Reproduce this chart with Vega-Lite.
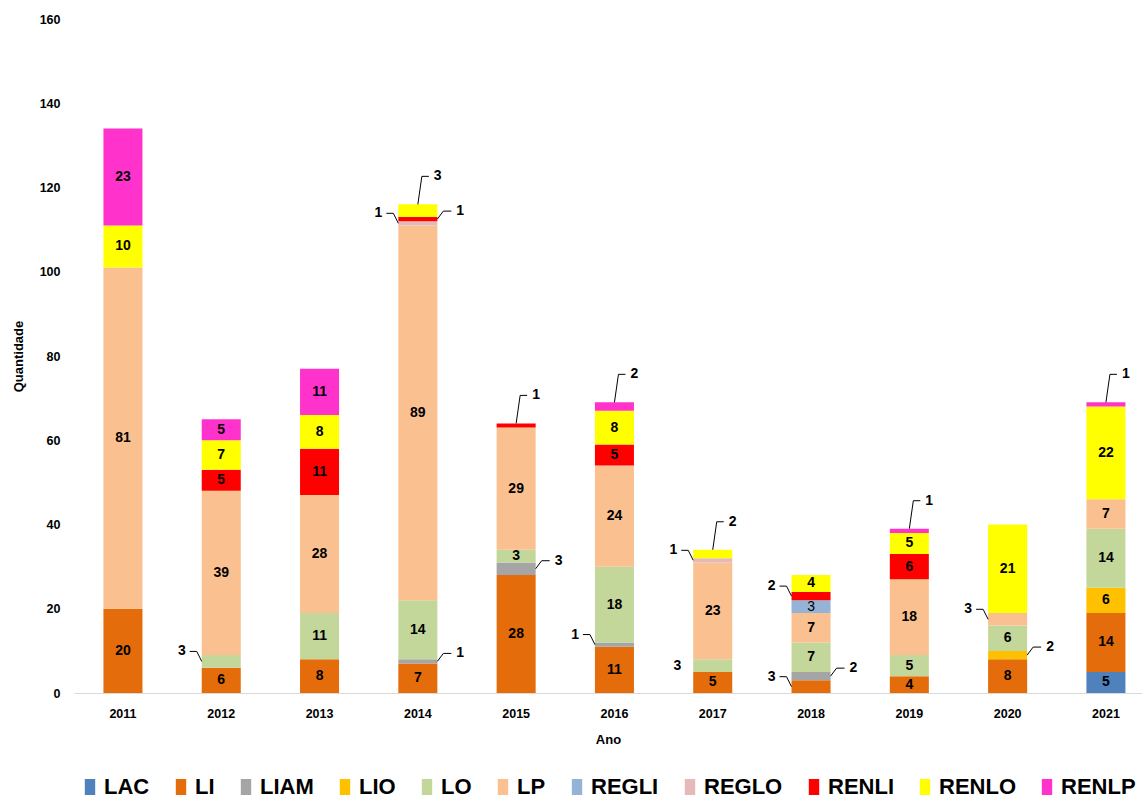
{
  "$schema": "https://vega.github.io/schema/vega-lite/v6.json",
  "width": 1068,
  "height": 674,
  "autosize": {"type": "none"},
  "padding": {"left": 74, "top": 19, "right": 0, "bottom": 108},
  "background": "white",
  "config": {
    "view": {"stroke": null},
    "font": "Liberation Sans",
    "text": {"font": "Liberation Sans", "fontWeight": "bold", "fontSize": 14, "color": "#000000", "baseline": "middle"},
    "rule": {"color": "#000000", "strokeWidth": 1}
  },
  "data": {
    "values": [
      {"year": "2011", "type": "LI", "value": 20},
      {"year": "2011", "type": "LP", "value": 81},
      {"year": "2011", "type": "RENLO", "value": 10},
      {"year": "2011", "type": "RENLP", "value": 23},
      {"year": "2012", "type": "LI", "value": 6},
      {"year": "2012", "type": "LO", "value": 3},
      {"year": "2012", "type": "LP", "value": 39},
      {"year": "2012", "type": "RENLI", "value": 5},
      {"year": "2012", "type": "RENLO", "value": 7},
      {"year": "2012", "type": "RENLP", "value": 5},
      {"year": "2013", "type": "LI", "value": 8},
      {"year": "2013", "type": "LO", "value": 11},
      {"year": "2013", "type": "LP", "value": 28},
      {"year": "2013", "type": "RENLI", "value": 11},
      {"year": "2013", "type": "RENLO", "value": 8},
      {"year": "2013", "type": "RENLP", "value": 11},
      {"year": "2014", "type": "LI", "value": 7},
      {"year": "2014", "type": "LIAM", "value": 1},
      {"year": "2014", "type": "LO", "value": 14},
      {"year": "2014", "type": "LP", "value": 89},
      {"year": "2014", "type": "REGLO", "value": 1},
      {"year": "2014", "type": "RENLI", "value": 1},
      {"year": "2014", "type": "RENLO", "value": 3},
      {"year": "2015", "type": "LI", "value": 28},
      {"year": "2015", "type": "LIAM", "value": 3},
      {"year": "2015", "type": "LO", "value": 3},
      {"year": "2015", "type": "LP", "value": 29},
      {"year": "2015", "type": "RENLI", "value": 1},
      {"year": "2016", "type": "LI", "value": 11},
      {"year": "2016", "type": "LIAM", "value": 1},
      {"year": "2016", "type": "LO", "value": 18},
      {"year": "2016", "type": "LP", "value": 24},
      {"year": "2016", "type": "RENLI", "value": 5},
      {"year": "2016", "type": "RENLO", "value": 8},
      {"year": "2016", "type": "RENLP", "value": 2},
      {"year": "2017", "type": "LI", "value": 5},
      {"year": "2017", "type": "LO", "value": 3},
      {"year": "2017", "type": "LP", "value": 23},
      {"year": "2017", "type": "REGLO", "value": 1},
      {"year": "2017", "type": "RENLO", "value": 2},
      {"year": "2018", "type": "LI", "value": 3},
      {"year": "2018", "type": "LIAM", "value": 2},
      {"year": "2018", "type": "LO", "value": 7},
      {"year": "2018", "type": "LP", "value": 7},
      {"year": "2018", "type": "REGLI", "value": 3},
      {"year": "2018", "type": "RENLI", "value": 2},
      {"year": "2018", "type": "RENLO", "value": 4},
      {"year": "2019", "type": "LI", "value": 4},
      {"year": "2019", "type": "LO", "value": 5},
      {"year": "2019", "type": "LP", "value": 18},
      {"year": "2019", "type": "RENLI", "value": 6},
      {"year": "2019", "type": "RENLO", "value": 5},
      {"year": "2019", "type": "RENLP", "value": 1},
      {"year": "2020", "type": "LI", "value": 8},
      {"year": "2020", "type": "LIO", "value": 2},
      {"year": "2020", "type": "LO", "value": 6},
      {"year": "2020", "type": "LP", "value": 3},
      {"year": "2020", "type": "RENLO", "value": 21},
      {"year": "2021", "type": "LAC", "value": 5},
      {"year": "2021", "type": "LI", "value": 14},
      {"year": "2021", "type": "LIO", "value": 6},
      {"year": "2021", "type": "LO", "value": 14},
      {"year": "2021", "type": "LP", "value": 7},
      {"year": "2021", "type": "RENLO", "value": 22},
      {"year": "2021", "type": "RENLP", "value": 1}
    ]
  },
  "transform": [
    {"stack": "value", "groupby": ["year"], "sort": [{"field": "type", "order": "ascending"}], "as": ["v0", "v1"]},
    {"calculate": "(datum.v0 + datum.v1) / 2", "as": "mid"},
    {"calculate": "datum.year + datum.type", "as": "key"}
  ],
  "layer": [
    {
      "mark": {"type": "bar"},
      "encoding": {
        "x": {
          "field": "year", "type": "ordinal",
          "scale": {"paddingInner": 0.603, "paddingOuter": 0.234, "align": 0.64},
          "axis": {
            "title": "Ano", "labelAngle": 0, "ticks": false, "tickSize": 0, "domainColor": "#d9d9d9", "domainWidth": 1,
            "labelFont": "Liberation Sans", "labelFontWeight": "bold", "labelFontSize": 12.5, "labelColor": "#000000", "labelPadding": 14,
            "titleFont": "Liberation Sans", "titleFontWeight": "bold", "titleFontSize": 13, "titleColor": "#000000", "titlePadding": 14
          }
        },
        "y": {
          "field": "v0", "type": "quantitative",
          "scale": {"domain": [0, 160], "nice": false, "zero": true},
          "axis": {
            "title": "Quantidade", "values": [0, 20, 40, 60, 80, 100, 120, 140, 160], "grid": false, "domain": false, "ticks": false, "tickSize": 0,
            "labelFont": "Liberation Sans", "labelFontWeight": "bold", "labelFontSize": 12.5, "labelColor": "#000000", "labelPadding": 14,
            "titleFont": "Liberation Sans", "titleFontWeight": "bold", "titleFontSize": 13, "titleColor": "#000000", "titlePadding": 14
          }
        },
        "y2": {"field": "v1"},
        "color": {
          "field": "type", "type": "nominal",
          "scale": {
            "domain": ["LAC", "LI", "LIAM", "LIO", "LO", "LP", "REGLI", "REGLO", "RENLI", "RENLO", "RENLP"],
            "range": ["#4F81BD", "#E46C0A", "#A5A5A5", "#FFC000", "#C4D79B", "#FAC090", "#95B3D7", "#E6B9B8", "#FF0000", "#FFFF00", "#FF33CC"]
          },
          "legend": {
            "orient": "none", "legendX": 5, "legendY": 757, "direction": "horizontal", "title": null,
            "symbolType": "M-0.65,-1H0.65V1H-0.65Z", "symbolSize": 256, "symbolStrokeWidth": 0,
            "labelFont": "Liberation Sans", "labelFontWeight": "bold", "labelFontSize": 22, "labelColor": "#000000",
            "labelOffset": 3, "columnPadding": 20, "labelLimit": 0
          }
        }
      }
    },
    {
      "transform": [{"filter": "indexof(['2012LO','2014REGLO','2016LIAM','2017REGLO','2018LI','2018RENLI','2020LP','2017LO','2014LIAM','2014RENLI','2015LIAM','2018LIAM','2020LIO','2014RENLO','2015RENLI','2016RENLP','2017RENLO','2019RENLP','2021RENLP','2018REGLI'], datum.key) < 0"}],
      "mark": {"type": "text", "align": "center"},
      "encoding": {
        "x": {"field": "year", "type": "ordinal"},
        "y": {"field": "mid", "type": "quantitative"},
        "text": {"field": "value", "type": "quantitative"}
      }
    },
    {
      "transform": [{"filter": "datum.key == '2018REGLI'"}],
      "mark": {"type": "text", "align": "center", "fontWeight": "normal"},
      "encoding": {
        "x": {"field": "year", "type": "ordinal"},
        "y": {"field": "mid", "type": "quantitative"},
        "text": {"field": "value", "type": "quantitative"}
      }
    },
    {
      "transform": [{"filter": "indexof(['2012LO','2014REGLO','2016LIAM','2017REGLO','2018LI','2018RENLI','2020LP'], datum.key) >= 0"}],
      "mark": {"type": "text", "align": "right", "dx": -16, "dy": -10},
      "encoding": {
        "x": {"field": "year", "type": "ordinal", "bandPosition": 0},
        "y": {"field": "mid", "type": "quantitative"},
        "text": {"field": "value", "type": "quantitative"}
      }
    },
    {
      "transform": [{"filter": "datum.key == '2017LO'"}],
      "mark": {"type": "text", "align": "right", "dx": -12, "dy": 0},
      "encoding": {
        "x": {"field": "year", "type": "ordinal", "bandPosition": 0},
        "y": {"field": "mid", "type": "quantitative"},
        "text": {"field": "value", "type": "quantitative"}
      }
    },
    {
      "transform": [{"filter": "indexof(['2012LO','2014REGLO','2016LIAM','2017REGLO','2018LI','2018RENLI','2020LP'], datum.key) >= 0"}],
      "mark": {"type": "rule", "x2Offset": -5, "y2Offset": -10},
      "encoding": {
        "x": {"field": "year", "type": "ordinal", "bandPosition": 0},
        "x2": {"field": "year", "bandPosition": 0},
        "y": {"field": "mid", "type": "quantitative"},
        "y2": {"field": "mid"}
      }
    },
    {
      "transform": [{"filter": "indexof(['2012LO','2014REGLO','2016LIAM','2017REGLO','2018LI','2018RENLI','2020LP'], datum.key) >= 0"}],
      "mark": {"type": "rule", "xOffset": -5, "x2Offset": -12, "yOffset": -10},
      "encoding": {
        "x": {"field": "year", "type": "ordinal", "bandPosition": 0},
        "x2": {"field": "year", "bandPosition": 0},
        "y": {"field": "mid", "type": "quantitative"}
      }
    },
    {
      "transform": [{"filter": "indexof(['2014LIAM','2014RENLI','2015LIAM','2018LIAM','2020LIO'], datum.key) >= 0"}],
      "mark": {"type": "text", "align": "left", "dx": 19, "dy": -8},
      "encoding": {
        "x": {"field": "year", "type": "ordinal", "bandPosition": 1},
        "y": {"field": "mid", "type": "quantitative"},
        "text": {"field": "value", "type": "quantitative"}
      }
    },
    {
      "transform": [{"filter": "indexof(['2014LIAM','2014RENLI','2015LIAM','2018LIAM','2020LIO'], datum.key) >= 0"}],
      "mark": {"type": "rule", "x2Offset": 6, "y2Offset": -8},
      "encoding": {
        "x": {"field": "year", "type": "ordinal", "bandPosition": 1},
        "x2": {"field": "year", "bandPosition": 1},
        "y": {"field": "mid", "type": "quantitative"},
        "y2": {"field": "mid"}
      }
    },
    {
      "transform": [{"filter": "indexof(['2014LIAM','2014RENLI','2015LIAM','2018LIAM','2020LIO'], datum.key) >= 0"}],
      "mark": {"type": "rule", "xOffset": 6, "x2Offset": 14, "yOffset": -8},
      "encoding": {
        "x": {"field": "year", "type": "ordinal", "bandPosition": 1},
        "x2": {"field": "year", "bandPosition": 1},
        "y": {"field": "mid", "type": "quantitative"}
      }
    },
    {
      "transform": [{"filter": "indexof(['2014RENLO','2015RENLI','2016RENLP','2017RENLO','2019RENLP','2021RENLP'], datum.key) >= 0"}],
      "mark": {"type": "text", "align": "left", "dx": 16, "dy": -28},
      "encoding": {
        "x": {"field": "year", "type": "ordinal"},
        "y": {"field": "v1", "type": "quantitative"},
        "text": {"field": "value", "type": "quantitative"}
      }
    },
    {
      "transform": [{"filter": "indexof(['2014RENLO','2015RENLI','2016RENLP','2017RENLO','2019RENLP','2021RENLP'], datum.key) >= 0"}],
      "mark": {"type": "rule", "x2Offset": 4, "y2Offset": -28},
      "encoding": {
        "x": {"field": "year", "type": "ordinal"},
        "x2": {"field": "year"},
        "y": {"field": "v1", "type": "quantitative"},
        "y2": {"field": "v1"}
      }
    },
    {
      "transform": [{"filter": "indexof(['2014RENLO','2015RENLI','2016RENLP','2017RENLO','2019RENLP','2021RENLP'], datum.key) >= 0"}],
      "mark": {"type": "rule", "xOffset": 4, "x2Offset": 11, "yOffset": -28},
      "encoding": {
        "x": {"field": "year", "type": "ordinal"},
        "x2": {"field": "year"},
        "y": {"field": "v1", "type": "quantitative"}
      }
    }
  ]
}
